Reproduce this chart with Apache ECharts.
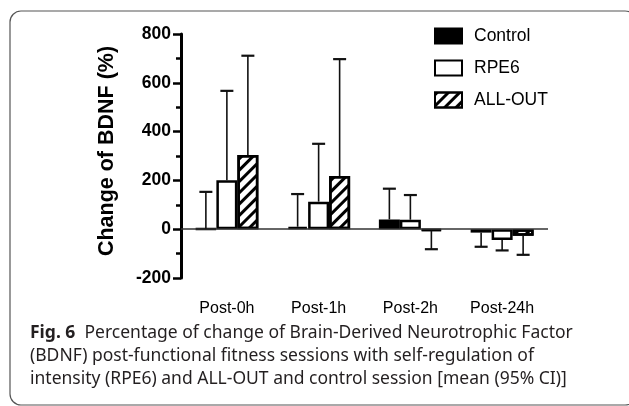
<!DOCTYPE html>
<html>
<head>
<meta charset="utf-8">
<script src="https://cdn.jsdelivr.net/npm/echarts@6/dist/echarts.min.js"></script>
<style>
html,body{margin:0;padding:0;background:#fff;}
#c{width:629px;height:406px;}
</style>
</head>
<body>
<div id="c"></div>
<script>
var categories = ['Post-0h', 'Post-1h', 'Post-2h', 'Post-24h'];
var seriesNames = ['Control', 'RPE6', 'ALL-OUT'];
var controlMean = [2, 10, 40, -14];
var controlCI = [153, 144, 166, -72];
var rpe6Mean = [201, 113, 39, -44];
var rpe6CI = [567, 350, 140, -87];
var allOutMean = [304, 218, -6, -27];
var allOutCI = [711, 697, -82, -105];
var yTicks = [-200, 0, 200, 400, 600, 800];
var yAxisTitle = 'Change of BDNF (%)';
var captionBold = 'Fig. 6';
var captionLines = [
  'Percentage of change of Brain-Derived Neurotrophic Factor',
  '(BDNF) post-functional fitness sessions with self-regulation of',
  'intensity (RPE6) and ALL-OUT and control session [mean (95% CI)]'
];

var BAR_W = 21;
var means = [controlMean, rpe6Mean, allOutMean];
var cis = [controlCI, rpe6CI, allOutCI];

function errSeries(idx) {
  var data = categories.map(function (c, i) { return [i, means[idx][i], cis[idx][i]]; });
  return {
    type: 'custom',
    name: seriesNames[idx] + ' CI',
    z: 5,
    silent: true,
    data: data,
    encode: { x: 0, y: [1, 2] },
    renderItem: function (params, api) {
      var ci = api.value(0);
      var p0 = api.coord([ci, api.value(1)]);
      var p1 = api.coord([ci, api.value(2)]);
      var x = p0[0] + (idx - 1) * BAR_W;
      var hw = 6.5;
      return {
        type: 'group',
        children: [
          { type: 'line', shape: { x1: x, y1: p0[1], x2: x, y2: p1[1] }, style: { stroke: '#111', lineWidth: 1.6 } },
          { type: 'line', shape: { x1: x - hw, y1: p1[1], x2: x + hw, y2: p1[1] }, style: { stroke: '#111', lineWidth: 2.2 } }
        ]
      };
    }
  };
}

var chart = echarts.init(document.getElementById('c'), null, { renderer: 'canvas' });
var font = 'Arial, "Liberation Sans", sans-serif';
var capFont = '"Noto Sans", "Open Sans", sans-serif';
var option = {
  animation: false,
  backgroundColor: '#fff',
  grid: { left: 181, right: 81, top: 34, bottom: 128, containLabel: false },
  legend: {
    orient: 'vertical',
    left: 429,
    top: 22,
    itemWidth: 27,
    itemHeight: 15,
    itemGap: 14,
    icon: 'rect',
    data: seriesNames,
    textStyle: { fontSize: 17.5, color: '#000', fontFamily: font, padding: [0, 0, 0, 7] }
  },
  xAxis: {
    type: 'category',
    data: categories,
    axisLine: { show: false },
    axisTick: { show: false },
    axisLabel: { fontSize: 16, color: '#000', fontFamily: font, margin: 23 },
    splitLine: { show: false }
  },
  yAxis: {
    type: 'value',
    min: -200,
    max: 800,
    interval: 200,
    axisLine: { show: true, lineStyle: { color: '#000', width: 3 } },
    axisTick: { show: true, length: 8, lineStyle: { color: '#000', width: 2.5 } },
    minorTick: { show: true, splitNumber: 2, length: 5, lineStyle: { color: '#000', width: 2.5 } },
    splitLine: { show: false },
    axisLabel: {
      fontSize: 17.5, fontWeight: 'bold', color: '#000', fontFamily: font, margin: 10,
      formatter: function (v) { return yTicks.indexOf(v) >= 0 ? String(v) : ''; }
    }
  },
  series: [
    {
      type: 'bar', name: seriesNames[0], data: controlMean, barWidth: BAR_W, barGap: '0%',
      itemStyle: { color: '#000', borderColor: '#000', borderWidth: 2.5 },
      markLine: {
        silent: true, symbol: 'none', label: { show: false },
        lineStyle: { color: '#333', width: 1.5, type: 'solid' },
        data: [{ yAxis: 0 }]
      }
    },
    {
      type: 'bar', name: seriesNames[1], data: rpe6Mean, barWidth: BAR_W, barGap: '0%',
      itemStyle: { color: '#fff', borderColor: '#000', borderWidth: 2.5 }
    },
    {
      type: 'bar', name: seriesNames[2], data: allOutMean, barWidth: BAR_W, barGap: '0%',
      itemStyle: {
        color: '#fff', borderColor: '#000', borderWidth: 2.5,
        decal: { symbol: 'rect', color: '#000', dashArrayX: [1, 0], dashArrayY: [2.2, 4.3], rotation: -Math.PI / 4, symbolSize: 1 }
      }
    },
    errSeries(0), errSeries(1), errSeries(2)
  ],
  graphic: [
    {
      type: 'rect', silent: true, z: -1,
      shape: { x: 10, y: 11, width: 626, height: 394, r: 11 },
      style: { fill: 'none', stroke: '#555', lineWidth: 1.2 }
    },
    {
      type: 'text', silent: true,
      x: 107, y: 151, rotation: Math.PI / 2,
      style: {
        text: yAxisTitle, fontSize: 21.5, fontWeight: 'bold', fontFamily: font, fill: '#000',
        align: 'center', verticalAlign: 'middle'
      }
    },
    {
      type: 'text', left: 30, top: 322, silent: true,
      style: {
        text: '{b|' + captionBold + '}  ' + captionLines.join('\n'),
        fontFamily: capFont,
        fontSize: 17.5,
        lineHeight: 23,
        fill: '#231f20',
        rich: {
          b: { fontWeight: 'bold', fontSize: 17.5, fontFamily: capFont, fill: '#231f20', lineHeight: 23 }
        }
      }
    }
  ]
};
chart.setOption(option);
</script>
</body>
</html>
